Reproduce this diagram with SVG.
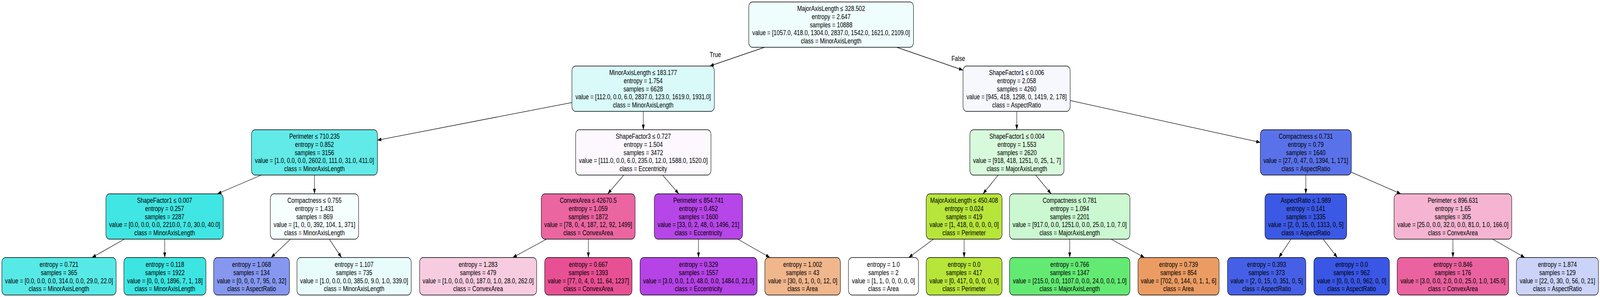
<svg xmlns="http://www.w3.org/2000/svg" width="5167" height="760" viewBox="0 0 5167 760" preserveAspectRatio="none">
<style>
:root{width:100vw;height:100vh}
.n rect{stroke:#000;stroke-width:1.3}
.n text,.lbl{font-family:"Liberation Sans",Arial,Helvetica,sans-serif;font-size:18px;text-anchor:middle;fill:#000}
.e line{stroke:#000;stroke-width:1.3;fill:none}
</style>
<defs>
<marker id="arr" markerUnits="userSpaceOnUse" markerWidth="14" markerHeight="10" refX="13" refY="4.65" orient="auto"><path d="M0,0 L13,4.65 L0,9.3 z" fill="#000"/></marker>
</defs>
<rect x="0" y="0" width="5167" height="760" fill="#fff"/>
<g id="edges" class="e">
<line x1="2469" y1="121" x2="2292" y2="169" marker-end="url(#arr)"/>
<line x1="2896" y1="121" x2="3110" y2="179.5" marker-end="url(#arr)"/>
<line x1="1847" y1="262.3" x2="1218.5" y2="358.8" marker-end="url(#arr)"/>
<line x1="2077.5" y1="285" x2="2077.5" y2="332" marker-end="url(#arr)"/>
<line x1="3283.5" y1="285" x2="3283.5" y2="332" marker-end="url(#arr)"/>
<line x1="3456" y1="257.2" x2="4070" y2="364.4" marker-end="url(#arr)"/>
<line x1="843.8" y1="448" x2="702" y2="496" marker-end="url(#arr)"/>
<line x1="1015.5" y1="448" x2="1015.5" y2="496" marker-end="url(#arr)"/>
<line x1="2014.4" y1="448" x2="1962.6" y2="496" marker-end="url(#arr)"/>
<line x1="2140" y1="448" x2="2192" y2="496" marker-end="url(#arr)"/>
<line x1="3223.5" y1="448" x2="3174.5" y2="496" marker-end="url(#arr)"/>
<line x1="3344.5" y1="448" x2="3394.5" y2="496" marker-end="url(#arr)"/>
<line x1="4217" y1="448" x2="4217" y2="496" marker-end="url(#arr)"/>
<line x1="4364" y1="440.7" x2="4524" y2="496" marker-end="url(#arr)"/>
<line x1="401.7" y1="612" x2="297" y2="659" marker-end="url(#arr)"/>
<line x1="532" y1="612" x2="532" y2="659" marker-end="url(#arr)"/>
<line x1="938" y1="612" x2="875.7" y2="659" marker-end="url(#arr)"/>
<line x1="1063.5" y1="612" x2="1102.8" y2="659" marker-end="url(#arr)"/>
<line x1="1765" y1="612" x2="1655.7" y2="659" marker-end="url(#arr)"/>
<line x1="1900" y1="612" x2="1900" y2="659" marker-end="url(#arr)"/>
<line x1="2255.7" y1="612" x2="2255.7" y2="659" marker-end="url(#arr)"/>
<line x1="2382.7" y1="612" x2="2486.3" y2="659" marker-end="url(#arr)"/>
<line x1="3014.4" y1="612" x2="2934.6" y2="659" marker-end="url(#arr)"/>
<line x1="3113.5" y1="612" x2="3113.5" y2="659" marker-end="url(#arr)"/>
<line x1="3454.5" y1="612" x2="3454.5" y2="659" marker-end="url(#arr)"/>
<line x1="3588" y1="612" x2="3695.9" y2="659" marker-end="url(#arr)"/>
<line x1="4168.9" y1="612" x2="4129.8" y2="659" marker-end="url(#arr)"/>
<line x1="4273.1" y1="612" x2="4318.6" y2="659" marker-end="url(#arr)"/>
<line x1="4692" y1="612" x2="4692" y2="659" marker-end="url(#arr)"/>
<line x1="4820.1" y1="612" x2="4924" y2="659" marker-end="url(#arr)"/>
<text class="lbl" x="2310" y="146">True</text>
<text class="lbl" x="3094.5" y="156">False</text>
</g>
<g id="n0" class="n"><rect x="2418" y="5" width="532" height="116" rx="12" fill="#effdfd"/><text x="2684" y="28"><tspan x="2684">MajorAxisLength ≤ 328.502</tspan><tspan x="2684" dy="20.8">entropy = 2.647</tspan><tspan x="2684" dy="20.8">samples = 10888</tspan><tspan x="2684" dy="20.8">value = [1057.0, 418.0, 1304.0, 2837.0, 1542.0, 1621.0, 2109.0]</tspan><tspan x="2684" dy="20.8">class = MinorAxisLength</tspan></text></g>
<g id="n1" class="n"><rect x="1847" y="169" width="460" height="116" rx="12" fill="#d9faf9"/><text x="2077" y="192"><tspan x="2077">MinorAxisLength ≤ 183.177</tspan><tspan x="2077" dy="20.8">entropy = 1.754</tspan><tspan x="2077" dy="20.8">samples = 6628</tspan><tspan x="2077" dy="20.8">value = [112.0, 0.0, 6.0, 2837.0, 123.0, 1619.0, 1931.0]</tspan><tspan x="2077" dy="20.8">class = MinorAxisLength</tspan></text></g>
<g id="n16" class="n"><rect x="3110" y="169" width="346" height="116" rx="12" fill="#f7f8fe"/><text x="3283" y="192"><tspan x="3283">ShapeFactor1 ≤ 0.006</tspan><tspan x="3283" dy="20.8">entropy = 2.058</tspan><tspan x="3283" dy="20.8">samples = 4260</tspan><tspan x="3283" dy="20.8">value = [945, 418, 1298, 0, 1419, 2, 178]</tspan><tspan x="3283" dy="20.8">class = AspectRatio</tspan></text></g>
<g id="n2" class="n"><rect x="812" y="332" width="407" height="116" rx="12" fill="#61eae8"/><text x="1015.5" y="355"><tspan x="1015.5">Perimeter ≤ 710.235</tspan><tspan x="1015.5" dy="20.8">entropy = 0.852</tspan><tspan x="1015.5" dy="20.8">samples = 3156</tspan><tspan x="1015.5" dy="20.8">value = [1.0, 0.0, 0.0, 2602.0, 111.0, 31.0, 411.0]</tspan><tspan x="1015.5" dy="20.8">class = MinorAxisLength</tspan></text></g>
<g id="n9" class="n"><rect x="1859" y="332" width="437" height="116" rx="12" fill="#fcf8fe"/><text x="2077.5" y="355"><tspan x="2077.5">ShapeFactor3 ≤ 0.727</tspan><tspan x="2077.5" dy="20.8">entropy = 1.504</tspan><tspan x="2077.5" dy="20.8">samples = 3472</tspan><tspan x="2077.5" dy="20.8">value = [111.0, 0.0, 6.0, 235.0, 12.0, 1588.0, 1520.0]</tspan><tspan x="2077.5" dy="20.8">class = Eccentricity</tspan></text></g>
<g id="n17" class="n"><rect x="3132" y="332" width="304" height="116" rx="12" fill="#d8fadc"/><text x="3284" y="355"><tspan x="3284">ShapeFactor1 ≤ 0.004</tspan><tspan x="3284" dy="20.8">entropy = 1.553</tspan><tspan x="3284" dy="20.8">samples = 2620</tspan><tspan x="3284" dy="20.8">value = [918, 418, 1251, 0, 25, 1, 7]</tspan><tspan x="3284" dy="20.8">class = MajorAxisLength</tspan></text></g>
<g id="n24" class="n"><rect x="4070" y="332" width="294" height="116" rx="12" fill="#5a72e9"/><text x="4217" y="355"><tspan x="4217">Compactness ≤ 0.731</tspan><tspan x="4217" dy="20.8">entropy = 0.79</tspan><tspan x="4217" dy="20.8">samples = 1640</tspan><tspan x="4217" dy="20.8">value = [27, 0, 47, 0, 1394, 1, 171]</tspan><tspan x="4217" dy="20.8">class = AspectRatio</tspan></text></g>
<g id="n3" class="n"><rect x="342" y="496" width="379" height="116" rx="12" fill="#40e6e3"/><text x="531.5" y="519"><tspan x="531.5">ShapeFactor1 ≤ 0.007</tspan><tspan x="531.5" dy="20.8">entropy = 0.257</tspan><tspan x="531.5" dy="20.8">samples = 2287</tspan><tspan x="531.5" dy="20.8">value = [0.0, 0.0, 0.0, 2210.0, 7.0, 30.0, 40.0]</tspan><tspan x="531.5" dy="20.8">class = MinorAxisLength</tspan></text></g>
<g id="n6" class="n"><rect x="873" y="496" width="285" height="116" rx="12" fill="#f7fefe"/><text x="1015.5" y="519"><tspan x="1015.5">Compactness ≤ 0.755</tspan><tspan x="1015.5" dy="20.8">entropy = 1.431</tspan><tspan x="1015.5" dy="20.8">samples = 869</tspan><tspan x="1015.5" dy="20.8">value = [1, 0, 0, 392, 104, 1, 371]</tspan><tspan x="1015.5" dy="20.8">class = MinorAxisLength</tspan></text></g>
<g id="n10" class="n"><rect x="1748" y="496" width="303" height="116" rx="12" fill="#eb65a1"/><text x="1899.5" y="519"><tspan x="1899.5">ConvexArea ≤ 42670.5</tspan><tspan x="1899.5" dy="20.8">entropy = 1.059</tspan><tspan x="1899.5" dy="20.8">samples = 1872</tspan><tspan x="1899.5" dy="20.8">value = [78, 0, 4, 187, 12, 92, 1499]</tspan><tspan x="1899.5" dy="20.8">class = ConvexArea</tspan></text></g>
<g id="n13" class="n"><rect x="2113" y="496" width="285" height="116" rx="12" fill="#b646e7"/><text x="2255.5" y="519"><tspan x="2255.5">Perimeter ≤ 854.741</tspan><tspan x="2255.5" dy="20.8">entropy = 0.452</tspan><tspan x="2255.5" dy="20.8">samples = 1600</tspan><tspan x="2255.5" dy="20.8">value = [33, 0, 2, 48, 0, 1496, 21]</tspan><tspan x="2255.5" dy="20.8">class = Eccentricity</tspan></text></g>
<g id="n18" class="n"><rect x="2991" y="496" width="245" height="116" rx="12" fill="#b7e53a"/><text x="3113.5" y="519"><tspan x="3113.5">MajorAxisLength ≤ 450.408</tspan><tspan x="3113.5" dy="20.8">entropy = 0.024</tspan><tspan x="3113.5" dy="20.8">samples = 419</tspan><tspan x="3113.5" dy="20.8">value = [1, 418, 0, 0, 0, 0, 0]</tspan><tspan x="3113.5" dy="20.8">class = Perimeter</tspan></text></g>
<g id="n21" class="n"><rect x="3260" y="496" width="389" height="116" rx="12" fill="#cbf8d0"/><text x="3454.5" y="519"><tspan x="3454.5">Compactness ≤ 0.781</tspan><tspan x="3454.5" dy="20.8">entropy = 1.094</tspan><tspan x="3454.5" dy="20.8">samples = 2201</tspan><tspan x="3454.5" dy="20.8">value = [917.0, 0.0, 1251.0, 0.0, 25.0, 1.0, 7.0]</tspan><tspan x="3454.5" dy="20.8">class = MajorAxisLength</tspan></text></g>
<g id="n25" class="n"><rect x="4085" y="496" width="264" height="116" rx="12" fill="#3c59e5"/><text x="4217" y="519"><tspan x="4217">AspectRatio ≤ 1.989</tspan><tspan x="4217" dy="20.8">entropy = 0.141</tspan><tspan x="4217" dy="20.8">samples = 1335</tspan><tspan x="4217" dy="20.8">value = [2, 0, 15, 0, 1313, 0, 5]</tspan><tspan x="4217" dy="20.8">class = AspectRatio</tspan></text></g>
<g id="n28" class="n"><rect x="4502" y="496" width="380" height="116" rx="12" fill="#f5b4d1"/><text x="4692" y="519"><tspan x="4692">Perimeter ≤ 896.631</tspan><tspan x="4692" dy="20.8">entropy = 1.65</tspan><tspan x="4692" dy="20.8">samples = 305</tspan><tspan x="4692" dy="20.8">value = [25.0, 0.0, 32.0, 0.0, 81.0, 1.0, 166.0]</tspan><tspan x="4692" dy="20.8">class = ConvexArea</tspan></text></g>
<g id="n4" class="n"><rect x="6" y="659" width="369" height="96" rx="12" fill="#57e9e6"/><text x="190.5" y="683"><tspan x="190.5">entropy = 0.721</tspan><tspan x="190.5" dy="20.8">samples = 365</tspan><tspan x="190.5" dy="20.8">value = [0.0, 0.0, 0.0, 314.0, 0.0, 29.0, 22.0]</tspan><tspan x="190.5" dy="20.8">class = MinorAxisLength</tspan></text></g>
<g id="n5" class="n"><rect x="400" y="659" width="265" height="96" rx="12" fill="#3ce5e2"/><text x="532.5" y="683"><tspan x="532.5">entropy = 0.118</tspan><tspan x="532.5" dy="20.8">samples = 1922</tspan><tspan x="532.5" dy="20.8">value = [0, 0, 0, 1896, 7, 1, 18]</tspan><tspan x="532.5" dy="20.8">class = MinorAxisLength</tspan></text></g>
<g id="n7" class="n"><rect x="690" y="659" width="245" height="96" rx="12" fill="#8597ef"/><text x="812.5" y="683"><tspan x="812.5">entropy = 1.068</tspan><tspan x="812.5" dy="20.8">samples = 134</tspan><tspan x="812.5" dy="20.8">value = [0, 0, 0, 7, 95, 0, 32]</tspan><tspan x="812.5" dy="20.8">class = AspectRatio</tspan></text></g>
<g id="n8" class="n"><rect x="959" y="659" width="369" height="96" rx="12" fill="#e8fcfc"/><text x="1143.5" y="683"><tspan x="1143.5">entropy = 1.107</tspan><tspan x="1143.5" dy="20.8">samples = 735</tspan><tspan x="1143.5" dy="20.8">value = [1.0, 0.0, 0.0, 385.0, 9.0, 1.0, 339.0]</tspan><tspan x="1143.5" dy="20.8">class = MinorAxisLength</tspan></text></g>
<g id="n11" class="n"><rect x="1355" y="659" width="378" height="96" rx="12" fill="#f8cce0"/><text x="1544" y="683"><tspan x="1544">entropy = 1.283</tspan><tspan x="1544" dy="20.8">samples = 479</tspan><tspan x="1544" dy="20.8">value = [1.0, 0.0, 0.0, 187.0, 1.0, 28.0, 262.0]</tspan><tspan x="1544" dy="20.8">class = ConvexArea</tspan></text></g>
<g id="n12" class="n"><rect x="1759" y="659" width="282" height="96" rx="12" fill="#e85094"/><text x="1900" y="683"><tspan x="1900">entropy = 0.667</tspan><tspan x="1900" dy="20.8">samples = 1393</tspan><tspan x="1900" dy="20.8">value = [77, 0, 4, 0, 11, 64, 1237]</tspan><tspan x="1900" dy="20.8">class = ConvexArea</tspan></text></g>
<g id="n14" class="n"><rect x="2067" y="659" width="378" height="96" rx="12" fill="#b543e6"/><text x="2256" y="683"><tspan x="2256">entropy = 0.329</tspan><tspan x="2256" dy="20.8">samples = 1557</tspan><tspan x="2256" dy="20.8">value = [3.0, 0.0, 1.0, 48.0, 0.0, 1484.0, 21.0]</tspan><tspan x="2256" dy="20.8">class = Eccentricity</tspan></text></g>
<g id="n15" class="n"><rect x="2470" y="659" width="244" height="96" rx="12" fill="#f0b68c"/><text x="2592" y="683"><tspan x="2592">entropy = 1.002</tspan><tspan x="2592" dy="20.8">samples = 43</tspan><tspan x="2592" dy="20.8">value = [30, 0, 1, 0, 0, 12, 0]</tspan><tspan x="2592" dy="20.8">class = Area</tspan></text></g>
<g id="n19" class="n"><rect x="2740" y="659" width="226" height="96" rx="12" fill="#ffffff"/><text x="2853" y="683"><tspan x="2853">entropy = 1.0</tspan><tspan x="2853" dy="20.8">samples = 2</tspan><tspan x="2853" dy="20.8">value = [1, 1, 0, 0, 0, 0, 0]</tspan><tspan x="2853" dy="20.8">class = Area</tspan></text></g>
<g id="n20" class="n"><rect x="2991" y="659" width="245" height="96" rx="12" fill="#b7e539"/><text x="3113.5" y="683"><tspan x="3113.5">entropy = 0.0</tspan><tspan x="3113.5" dy="20.8">samples = 417</tspan><tspan x="3113.5" dy="20.8">value = [0, 417, 0, 0, 0, 0, 0]</tspan><tspan x="3113.5" dy="20.8">class = Perimeter</tspan></text></g>
<g id="n22" class="n"><rect x="3260" y="659" width="389" height="96" rx="12" fill="#63ea73"/><text x="3454.5" y="683"><tspan x="3454.5">entropy = 0.766</tspan><tspan x="3454.5" dy="20.8">samples = 1347</tspan><tspan x="3454.5" dy="20.8">value = [215.0, 0.0, 1107.0, 0.0, 24.0, 0.0, 1.0]</tspan><tspan x="3454.5" dy="20.8">class = MajorAxisLength</tspan></text></g>
<g id="n23" class="n"><rect x="3675" y="659" width="262" height="96" rx="12" fill="#eb9c63"/><text x="3806" y="683"><tspan x="3806">entropy = 0.739</tspan><tspan x="3806" dy="20.8">samples = 854</tspan><tspan x="3806" dy="20.8">value = [702, 0, 144, 0, 1, 1, 6]</tspan><tspan x="3806" dy="20.8">class = Area</tspan></text></g>
<g id="n26" class="n"><rect x="3964" y="659" width="253" height="96" rx="12" fill="#4560e7"/><text x="4090.5" y="683"><tspan x="4090.5">entropy = 0.393</tspan><tspan x="4090.5" dy="20.8">samples = 373</tspan><tspan x="4090.5" dy="20.8">value = [2, 0, 15, 0, 351, 0, 5]</tspan><tspan x="4090.5" dy="20.8">class = AspectRatio</tspan></text></g>
<g id="n27" class="n"><rect x="4243" y="659" width="244" height="96" rx="12" fill="#3956e5"/><text x="4365" y="683"><tspan x="4365">entropy = 0.0</tspan><tspan x="4365" dy="20.8">samples = 962</tspan><tspan x="4365" dy="20.8">value = [0, 0, 0, 0, 962, 0, 0]</tspan><tspan x="4365" dy="20.8">class = AspectRatio</tspan></text></g>
<g id="n29" class="n"><rect x="4512" y="659" width="360" height="96" rx="12" fill="#ea629f"/><text x="4692" y="683"><tspan x="4692">entropy = 0.846</tspan><tspan x="4692" dy="20.8">samples = 176</tspan><tspan x="4692" dy="20.8">value = [3.0, 0.0, 2.0, 0.0, 25.0, 1.0, 145.0]</tspan><tspan x="4692" dy="20.8">class = ConvexArea</tspan></text></g>
<g id="n30" class="n"><rect x="4897" y="659" width="265" height="96" rx="12" fill="#cbd3f8"/><text x="5029.5" y="683"><tspan x="5029.5">entropy = 1.874</tspan><tspan x="5029.5" dy="20.8">samples = 129</tspan><tspan x="5029.5" dy="20.8">value = [22, 0, 30, 0, 56, 0, 21]</tspan><tspan x="5029.5" dy="20.8">class = AspectRatio</tspan></text></g>
</svg>
